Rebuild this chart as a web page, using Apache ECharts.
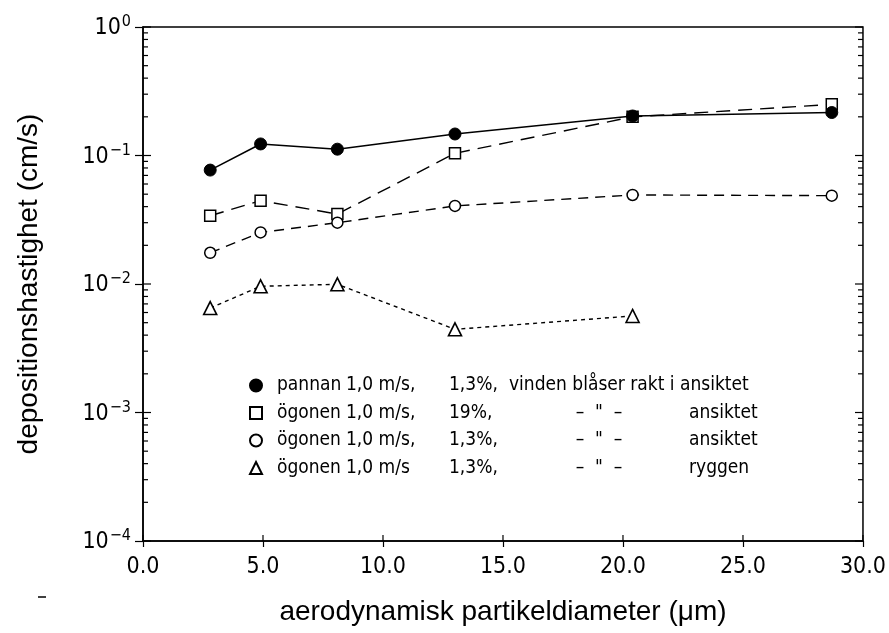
<!DOCTYPE html>
<html><head><meta charset="utf-8">
<script src="https://cdn.jsdelivr.net/npm/echarts@6/dist/echarts.min.js"></script>
<style>html,body{margin:0;padding:0;background:#fff}#c{width:889px;height:633px}</style>
</head><body><div id="c"></div>
<script>
// ---- data ----
const xPannan = [2.8, 4.9, 8.1, 13.0, 20.4, 28.7];
const yPannan = [0.077, 0.123, 0.112, 0.147, 0.203, 0.216];
const xOgon19 = [2.8, 4.9, 8.1, 13.0, 20.4, 28.7];
const yOgon19 = [0.034, 0.0445, 0.035, 0.104, 0.20, 0.25];
const xOgon13 = [2.8, 4.9, 8.1, 13.0, 20.4, 28.7];
const yOgon13 = [0.0175, 0.0252, 0.030, 0.0405, 0.0493, 0.0487];
const xRygg = [2.8, 4.9, 8.1, 13.0, 20.4];
const yRygg = [0.0065, 0.0096, 0.00995, 0.00444, 0.00564];

const xTickValues = [0, 5, 10, 15, 20, 25, 30];
const yDecades = [0.0001, 0.001, 0.01, 0.1, 1];
const minorMultipliers = [2, 3, 4, 5, 6, 7, 8, 9];

const legendCols = {
  'pannan':   ['pannan', '1,0 m/s,', '1,3%,', 'vinden blåser rakt i ansiktet', ''],
  'ögonen19': ['ögonen', '1,0 m/s,', '19%,', '–  "  –', 'ansiktet'],
  'ögonen13': ['ögonen', '1,0 m/s,', '1,3%,', '–  "  –', 'ansiktet'],
  'ryggen':   ['ögonen', '1,0 m/s', '1,3%,', '–  "  –', 'ryggen']
};
const xTitle = 'aerodynamisk partikeldiameter (μm)';
const yTitle = 'depositionshastighet (cm/s)';

const NARROW = '"Liberation Sans Narrow","DejaVu Sans Condensed","Liberation Sans",sans-serif';

function pairs(xs, ys) { return xs.map((x, i) => [x, ys[i]]); }

// tick marks (inner side) drawn through the axes' scales
const tickData = [];
yDecades.forEach((d, i) => {
  tickData.push([0, d, 8, 0]);
  tickData.push([30, d, 8, 1]);
  if (i < yDecades.length - 1) {
    minorMultipliers.forEach(m => {
      tickData.push([0, d * m, 5, 0]);
      tickData.push([30, d * m, 5, 1]);
    });
  }
});
xTickValues.forEach(v => tickData.push([v, 0.0001, 6, 2]));

const chart = echarts.init(document.getElementById('c'), null, {renderer: 'canvas'});
const lineBase = {type: 'line', symbolKeepAspect: true, animation: false};
const legText = {fontFamily: NARROW, fontSize: 19, lineHeight: 20, color: '#000'};

chart.setOption({
  backgroundColor: '#fff',
  animation: false,
  grid: {left: 143, right: 20, top: 27, bottom: 92, show: true, borderColor: '#000', borderWidth: 1.5, backgroundColor: 'transparent'},
  xAxis: {
    type: 'value', min: 0, max: 30, interval: 5,
    axisLine: {lineStyle: {color: '#000', width: 1.5}},
    axisTick: {show: true, length: 6, lineStyle: {color: '#000', width: 1.2}},
    splitLine: {show: false},
    axisLabel: {color: '#000', fontFamily: NARROW, fontSize: 23, margin: 15, formatter: v => v.toFixed(1)},
    name: xTitle, nameLocation: 'middle', nameGap: 57,
    nameTextStyle: {color: '#000', fontFamily: '"Liberation Sans",Arial,sans-serif', fontSize: 28}
  },
  yAxis: {
    type: 'log', logBase: 10, min: 0.0001, max: 1,
    axisLine: {lineStyle: {color: '#000', width: 1.5}},
    axisTick: {show: true, length: 8, lineStyle: {color: '#000', width: 1.2}},
    minorTick: {show: false},
    splitLine: {show: false},
    axisLabel: {
      color: '#000', margin: 12,
      formatter: v => {
        const e = Math.round(Math.log10(v));
        return '{b|10}{s|' + (e < 0 ? '−' + (-e) : String(e)) + '}';
      },
      rich: {
        b: {fontFamily: NARROW, fontSize: 23, color: '#000', lineHeight: 26, verticalAlign: 'bottom'},
        s: {fontFamily: NARROW, fontSize: 16, color: '#000', lineHeight: 26, verticalAlign: 'top', padding: [0, 0, 10, 1]}
      }
    },
    name: yTitle, nameLocation: 'middle', nameGap: 100,
    nameTextStyle: {color: '#000', fontFamily: '"Liberation Sans",Arial,sans-serif', fontSize: 28}
  },
  legend: {
    orient: 'vertical', left: 244, top: 371, itemWidth: 12, itemHeight: 12, itemGap: 8.5,
    selectedMode: false,
    data: [
      {name: 'pannan', icon: 'circle'},
      {name: 'ögonen19', icon: 'rect'},
      {name: 'ögonen13', icon: 'circle'},
      {name: 'ryggen', icon: 'triangle'}
    ],
    formatter: name => {
      const c = legendCols[name];
      if (name === 'pannan') {
        return '{a|' + c[0] + '}{b|' + c[1] + '}{c|' + c[2] + '}{f|' + c[3] + '}';
      }
      return '{a|' + c[0] + '}{b|' + c[1] + '}{c|' + c[2] + '}{d|' + c[3] + '}{e|' + c[4] + '}';
    },
    textStyle: {
      color: '#000', fontFamily: NARROW, fontSize: 19,
      rich: {
        a: Object.assign({width: 69, padding: [0, 0, 0, 10]}, legText),
        b: Object.assign({width: 103}, legText),
        c: Object.assign({width: 60}, legText),
        d: Object.assign({width: 180, align: 'center'}, legText),
        e: Object.assign({}, legText),
        f: Object.assign({}, legText)
      }
    }
  },
  series: [
    Object.assign({}, lineBase, {
      name: 'ögonen19', data: pairs(xOgon19, yOgon19), symbol: 'rect', symbolSize: 11, z: 3,
      itemStyle: {color: '#fff', borderColor: '#000', borderWidth: 1.5},
      lineStyle: {color: '#000', width: 1.4, type: [14, 8]}
    }),
    Object.assign({}, lineBase, {
      name: 'ögonen13', data: pairs(xOgon13, yOgon13), symbol: 'circle', symbolSize: 11, z: 3,
      itemStyle: {color: '#fff', borderColor: '#000', borderWidth: 1.5},
      lineStyle: {color: '#000', width: 1.4, type: [10, 7]}
    }),
    Object.assign({}, lineBase, {
      name: 'ryggen', data: pairs(xRygg, yRygg), symbol: 'triangle', symbolSize: 13, z: 3,
      itemStyle: {color: '#fff', borderColor: '#000', borderWidth: 1.6},
      lineStyle: {color: '#000', width: 1.4, type: [4, 4]}
    }),
    Object.assign({}, lineBase, {
      name: 'pannan', data: pairs(xPannan, yPannan), symbol: 'circle', symbolSize: 12, z: 4,
      itemStyle: {color: '#000', borderColor: '#000', borderWidth: 1},
      lineStyle: {color: '#000', width: 1.6, type: 'solid'}
    }),
    {
      type: 'custom', name: 'ticks', silent: true, clip: false, z: 5,
      data: tickData, encode: {x: 0, y: 1},
      renderItem: (params, api) => {
        const kind = api.value(3), len = api.value(2);
        const p = api.coord([api.value(0), api.value(1)]);
        let x2 = p[0], y2 = p[1];
        if (kind === 0) x2 = p[0] + len;
        else if (kind === 1) x2 = p[0] - len;
        else y2 = p[1] - len;
        return {type: 'line', shape: {x1: p[0], y1: p[1], x2: x2, y2: y2}, style: {stroke: '#000', lineWidth: 1.2}};
      }
    }
  ],
  graphic: [
    {type: 'line', shape: {x1: 38, y1: 597, x2: 46, y2: 597}, style: {stroke: '#000', lineWidth: 1.5}}
  ]
});
</script>
</body></html>
